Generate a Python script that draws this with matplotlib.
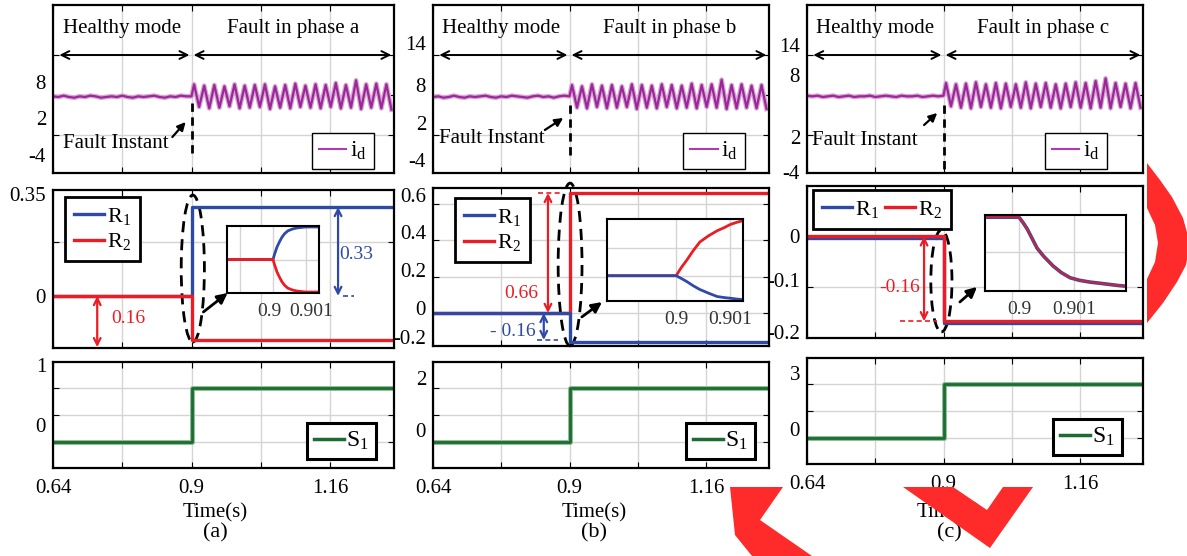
import matplotlib.pyplot as plt
from matplotlib.lines import Line2D
from matplotlib.patches import Ellipse, Polygon
from matplotlib.transforms import ScaledTranslation
import numpy as np

plt.rcParams['font.family'] = ['Liberation Serif', 'DejaVu Serif']
plt.rcParams['mathtext.fontset'] = 'stix'

W, H = 1187, 556

# ---------------- data ----------------
T_START, T_FAULT, T_END = 0.64, 0.9, 1.28
X_TICKS = [0.64, 0.77, 0.9, 1.03, 1.16]
X_LABELS = ['0.64', '', '0.9', '', '1.16']
PANELS = ['a', 'b', 'c']

# i_d, healthy part (every 10 ms)
T_HEALTHY = np.round(np.arange(0.64, 0.9001, 0.01), 2)
ID_HEALTHY_A = [7.8, 7.7, 7.9, 7.7, 7.6, 7.8, 7.7, 7.9, 7.8, 7.6, 7.7, 7.8, 7.7, 7.9,
                7.7, 7.6, 7.8, 7.7, 7.8, 7.9, 7.7, 7.6, 7.8, 7.7, 7.9, 7.8, 7.8]
ID_HEALTHY_B = [7.7, 7.8, 7.6, 7.7, 7.9, 7.7, 7.6, 7.8, 7.7, 7.8, 7.9, 7.7, 7.6, 7.8,
                7.7, 7.9, 7.8, 7.7, 7.6, 7.8, 7.9, 7.7, 7.8, 7.6, 7.8, 7.9, 7.8]
ID_HEALTHY_C = [7.9, 7.8, 7.9, 7.7, 7.8, 7.9, 7.7, 7.8, 7.9, 7.7, 7.8, 7.8, 7.9, 7.7,
                7.8, 7.9, 7.8, 7.7, 7.9, 7.8, 7.8, 7.9, 7.7, 7.8, 7.9, 7.8, 7.9]

# i_d, faulty part: successive peaks / troughs (half period 9.5 ms)
T_EXTREMA = T_FAULT + 0.00475 + 0.0095 * np.arange(40)
ID_PEAKS_A = [9.6, 9.4, 9.5, 9.3, 9.6, 9.4, 9.5, 9.6, 9.3, 9.5,
              9.7, 9.4, 9.6, 9.5, 9.8, 9.5, 10.2, 9.6, 9.7, 9.6]
ID_TROUGHS_A = [6.2, 6.0, 6.1, 6.3, 6.0, 6.1, 6.2, 5.9, 6.1, 6.0,
                6.2, 6.1, 6.0, 6.2, 6.0, 6.1, 5.9, 6.1, 6.0, 5.8]
ID_PEAKS_B = [9.5, 9.3, 9.6, 9.4, 9.5, 9.3, 9.6, 9.5, 9.4, 9.6,
              9.5, 9.4, 9.7, 9.5, 9.6, 10.3, 9.5, 9.6, 9.4, 9.5]
ID_TROUGHS_B = [6.1, 6.0, 6.2, 6.0, 6.1, 6.2, 5.9, 6.1, 6.0, 6.2,
                6.0, 6.1, 6.0, 6.2, 6.1, 5.9, 6.0, 6.1, 6.0, 5.9]
ID_PEAKS_C = [9.8, 9.6, 9.7, 9.9, 9.6, 9.8, 9.7, 9.6, 9.9, 9.7,
              9.8, 9.6, 9.7, 9.9, 9.8, 10.1, 10.5, 9.8, 9.7, 9.8]
ID_TROUGHS_C = [6.3, 6.1, 6.0, 6.2, 6.1, 6.0, 6.2, 6.1, 6.0, 6.2,
                6.1, 6.0, 6.2, 6.1, 6.0, 6.1, 6.0, 6.2, 6.0, 6.1]

# R1 / R2 levels (before, after fault)
R1_A, R2_A = [0.0, 0.33], [0.0, -0.165]
R1_B, R2_B = [0.0, -0.16], [0.0, 0.66]
R1_C, R2_C = [-0.004, -0.171], [0.0, -0.167]
# S1 levels
S1_A, S1_B, S1_C = [0, 1], [0, 2], [0, 3]

# zoomed insets (R normalised to inset height)
INS_T_A = [0.8986, 0.9, 0.90005, 0.90012, 0.9002, 0.90027, 0.90035, 0.90045,
           0.9006, 0.90073, 0.9009, 0.901, 0.9014]
INS_R1_A = [0, 0, 0.17, 0.38, 0.55, 0.68, 0.79, 0.88, 0.94, 0.97, 0.99, 1.0, 1.0]
INS_R2_A = [0, 0, -0.17, -0.38, -0.55, -0.68, -0.79, -0.88, -0.94, -0.97, -0.99, -1.0, -1.0]
INS_T_B = [0.8987, 0.9, 0.9001, 0.9002, 0.90032, 0.90044, 0.9006, 0.90076,
           0.9009, 0.901, 0.90112, 0.90124]
INS_R1_B = [0, 0, -0.05, -0.105, -0.18, -0.245, -0.31, -0.37, -0.39, -0.40, -0.415, -0.425]
INS_R2_B = [0, 0, 0.15, 0.28, 0.45, 0.60, 0.71, 0.80, 0.86, 0.91, 0.95, 0.98]
INS_T_C = [0.89938, 0.9, 0.90008, 0.90015, 0.90024, 0.90033, 0.90045, 0.90062,
           0.90077, 0.90093, 0.9011, 0.9013, 0.90153, 0.9018, 0.90195]
INS_R_C = [1.0, 1.0, 0.92, 0.84, 0.71, 0.58, 0.47, 0.34, 0.25, 0.18, 0.145, 0.12,
           0.10, 0.075, 0.065]

# y tick labels as printed (positions where the text sits)
TOP_YT_POS = [[9.95, 4.55, -1.0], [15.8, 9.5, 3.8, -1.75], [15.5, 11.0, 1.7, -3.55]]
TOP_YT_LAB = [['8', '2', '-4'], ['14', '8', '2', '-4'], ['14', '8', '2', '-4']]
MID_YT_POS = [[0.38, 0.0], [0.65, 0.445, 0.237, 0.0275, -0.132], [0.0, -0.085, -0.188]]
MID_YT_LAB = [['0.35', '0'], ['0.6', '0.4', '0.2', '0', '-0.2'], ['0', '-0.1', '-0.2']]
BOT_YT_POS = [[1.43, 0.31], [2.37, 0.44], [3.61, 0.5]]
BOT_YT_LAB = [['1', '0'], ['2', '0'], ['3', '0']]

# ---------------- style ----------------
PURPLE = '#9a2896'
BLUE = '#2f4aa6'
RED = '#ec1c24'
GREEN = '#1c6b32'
GRID = '#d4d4d4'
FS = 15

COLS_X = [(53, 394), (433, 769), (807, 1143)]
TOP_Y = [(5, 173), (5, 173), (5, 173)]
MID_Y = [(190, 348), (188, 346), (186, 338)]
BOT_Y = [(362, 468), (362, 468), (358, 464)]
TOP_LIM = (-3.7, 21.5)
MID_LIM = [(-0.193, 0.393), (-0.1815, 0.6875), (-0.2, 0.099)]
BOT_LIM = [(-0.48, 1.48), (-0.96, 2.96), (-1.44, 4.44)]
TOP_GRID = [2, 8, 14]
MID_GRID = [[0, 0.2], [0, 0.2, 0.4, 0.6], [-0.1, 0]]
BOT_GRID = [[0, 0.5, 1], [0, 1, 2], [0, 1.5, 3]]

fig = plt.figure(figsize=(W / 100, H / 100), dpi=100)


def px_axes(l, t, r, b):
    return fig.add_axes([l / W, 1 - b / H, (r - l) / W, (b - t) / H])


def style_axes(ax, ylim, grid_y, yt_pos, yt_lab, xlabels=False):
    ax.set_xlim(T_START, T_END)
    ax.set_ylim(*ylim)
    ax.set_xticks(X_TICKS)
    ax.set_xticklabels(X_LABELS if xlabels else [])
    ax.set_yticks(yt_pos)
    ax.set_yticklabels(yt_lab)
    ax.set_yticks(grid_y, minor=True)
    ax.xaxis.grid(True, color=GRID, lw=1)
    ax.yaxis.grid(True, which='minor', color=GRID, lw=1)
    ax.tick_params(axis='x', direction='in', length=4, width=0.8, top=True,
                   labelsize=FS, pad=8)
    ax.tick_params(axis='y', which='major', length=0, labelsize=FS, pad=5)
    ax.tick_params(axis='y', which='minor', direction='in', length=4, width=0.8,
                   right=True)
    for s in ax.spines.values():
        s.set_linewidth(1.6)
    ax.set_axisbelow(True)


def box_legend(ax, handles, labels, anchor, ncol=1, lw=2.0, fs=16, hl=1.3,
               tp=0.15, bp=0.35, cs=0.3):
    leg = ax.legend(handles, labels, loc='upper left', bbox_to_anchor=anchor,
                    borderaxespad=0, ncol=ncol, fancybox=False, framealpha=1,
                    edgecolor='black', fontsize=fs, handlelength=hl,
                    handletextpad=tp, borderpad=bp, labelspacing=0.2,
                    columnspacing=cs)
    leg.get_frame().set_linewidth(lw)
    return leg


ID_HEALTHY = [ID_HEALTHY_A, ID_HEALTHY_B, ID_HEALTHY_C]
ID_PEAKS = [ID_PEAKS_A, ID_PEAKS_B, ID_PEAKS_C]
ID_TROUGHS = [ID_TROUGHS_A, ID_TROUGHS_B, ID_TROUGHS_C]
R1 = [R1_A, R1_B, R1_C]
R2 = [R2_A, R2_B, R2_C]
S1 = [S1_A, S1_B, S1_C]

# positions of annotations (data coords) per column
FI_TEXT = [(0.757, 0.8), (0.752, 1.55), (0.75, 1.25)]
FI_ARROW = [((0.864, 1.7), (0.889, 3.95)), ((0.853, 2.75), (0.888, 4.55)),
            ((0.863, 3.5), (0.888, 5.3))]
FI_DASH = [(6.8, -1.3), (6.5, -1.3), (6.5, -3.55)]
ELLIPSES = [((0.41, 0.503), 0.068, 0.93), ((0.408, 0.516), 0.071, 1.03),
            ((0.40, 0.375), 0.063, 0.67)]
ZOOM_ARROWS = [((0.441, 0.228), (0.512, 0.348)), ((0.443, 0.184), (0.503, 0.278)),
               ((0.455, 0.237), (0.506, 0.336))]
INSET_PX = [(227, 226, 319, 293), (607, 219, 743, 301), (985, 215, 1126, 291)]
R_LEG_ANCHOR = [(0.035, 0.956), (0.065, 0.937), (0.018, 0.974)]
S_LEG_ANCHOR = [(0.745, 0.425), (0.753, 0.425), (0.732, 0.425)]
ID_LEG_ANCHOR = [(0.76, 0.238), (0.745, 0.238), (0.708, 0.238)]
LABEL_X = [215, 594, 949]

for i, p in enumerate(PANELS):
    l, r = COLS_X[i]

    # ---- top: i_d ----
    ax = px_axes(l, TOP_Y[i][0], r, TOP_Y[i][1])
    style_axes(ax, TOP_LIM, TOP_GRID, TOP_YT_POS[i], TOP_YT_LAB[i])
    ext = np.empty(40)
    ext[0::2] = ID_PEAKS[i]
    ext[1::2] = ID_TROUGHS[i]
    t = np.concatenate([T_HEALTHY, T_EXTREMA])
    v = np.concatenate([ID_HEALTHY[i], ext])
    ax.plot(t, v, color='#d9a6d7', lw=3.4, solid_joinstyle='round')
    ax.plot(t, v, color=PURPLE, lw=1.6)
    ax.annotate('', xy=(0.652, 14), xytext=(0.896, 14),
                arrowprops=dict(arrowstyle='<->', color='black', lw=1.4,
                                mutation_scale=14, shrinkA=0, shrinkB=0))
    ax.annotate('', xy=(0.904, 14), xytext=(1.275, 14),
                arrowprops=dict(arrowstyle='<->', color='black', lw=1.4,
                                mutation_scale=14, shrinkA=0, shrinkB=0))
    ax.text(0.77, 18.05, 'Healthy mode', fontsize=FS, ha='center', va='center')
    ax.text(1.09, 18.05, 'Fault in phase ' + p, fontsize=FS, ha='center', va='center')
    ax.plot([T_FAULT, T_FAULT], FI_DASH[i], color='black', lw=2, ls=(0, (3, 2)))
    ax.text(*FI_TEXT[i], 'Fault Instant', fontsize=FS, ha='center', va='center')
    ax.annotate('', xy=FI_ARROW[i][1], xytext=FI_ARROW[i][0],
                arrowprops=dict(arrowstyle='-|>', color='black', lw=1.6,
                                mutation_scale=12, shrinkA=0, shrinkB=0))
    box_legend(ax, [Line2D([], [], color='#b03ab0', lw=1.5)],
               [r'i$_\mathregular{d}$'], ID_LEG_ANCHOR[i], lw=1.0, fs=17, hl=1.15,
               tp=0.15, bp=0.3)

    # ---- middle: R1, R2 ----
    ax = px_axes(l, MID_Y[i][0], r, MID_Y[i][1])
    style_axes(ax, MID_LIM[i], MID_GRID[i], MID_YT_POS[i], MID_YT_LAB[i])
    tt = [T_START, T_FAULT, T_END]
    r1 = [R1[i][0], R1[i][1], R1[i][1]]
    r2 = [R2[i][0], R2[i][1], R2[i][1]]
    if p == 'b':
        ax.plot(tt, r2, color=RED, lw=2.4, drawstyle='steps-post')
        ax.plot(tt, r1, color=BLUE, lw=2.4, drawstyle='steps-post')
    else:
        ax.plot(tt, r1, color=BLUE, lw=2.4, drawstyle='steps-post')
        ax.plot(tt, r2, color=RED, lw=2.4, drawstyle='steps-post')
    (cx, cy), ew, eh = ELLIPSES[i]
    ax.add_patch(Ellipse((cx, cy), ew, eh, transform=ax.transAxes, fill=False,
                         ec='black', lw=2, ls=(0, (4, 2.5)), clip_on=False))
    ax.annotate('', xy=ZOOM_ARROWS[i][1], xytext=ZOOM_ARROWS[i][0],
                xycoords='axes fraction', textcoords='axes fraction',
                arrowprops=dict(arrowstyle='-|>', color='black', lw=2,
                                mutation_scale=15, shrinkA=0, shrinkB=0))
    dbl = dict(arrowstyle='<->', lw=1.6, mutation_scale=12, shrinkA=0, shrinkB=0)
    if p == 'a':
        ax.annotate('', xy=(0.723, R2_A[0]), xytext=(0.723, -0.19),
                    arrowprops=dict(dbl, color=RED))
        ax.text(0.781, -0.082, '0.16', color=RED, fontsize=14, ha='center', va='center')
        ax.annotate('', xy=(1.175, R1_A[1]), xytext=(1.175, R1_A[0]),
                    arrowprops=dict(dbl, color=BLUE))
        ax.text(1.209, 0.152, '0.33', color=BLUE, fontsize=14, ha='center', va='center')
        ax.plot([1.184, 1.205], [0, 0], color=BLUE, lw=1.2, ls=(0, (3, 2)))
    elif p == 'b':
        ax.annotate('', xy=(0.859, R2_B[1]), xytext=(0.859, R2_B[0]),
                    arrowprops=dict(dbl, color=RED))
        ax.plot([0.84, 0.888], [R2_B[1], R2_B[1]], color=RED, lw=1.2, ls=(0, (3, 2)))
        ax.text(0.808, 0.11, '0.66', color=RED, fontsize=14, ha='center', va='center')
        ax.annotate('', xy=(0.851, -0.1485), xytext=(0.851, 0),
                    arrowprops=dict(dbl, color=BLUE))
        ax.plot([0.838, 0.878], [-0.1485, -0.1485], color=BLUE, lw=1.2, ls=(0, (3, 2)))
        ax.text(0.792, -0.1045, '- 0.16', color=BLUE, fontsize=14, ha='center',
                va='center')
    else:
        ax.annotate('', xy=(0.863, R2_C[1]), xytext=(0.863, R2_C[0]),
                    arrowprops=dict(dbl, color=RED))
        ax.plot([0.817, 0.888], [R2_C[1], R2_C[1]], color=RED, lw=1.2, ls=(0, (3, 2)))
        ax.text(0.817, -0.101, '-0.16', color=RED, fontsize=14, ha='center', va='center')
    r_handles = [Line2D([], [], color=BLUE, lw=2.4), Line2D([], [], color=RED, lw=2.4)]
    r_labels = [r'R$_\mathregular{1}$', r'R$_\mathregular{2}$']
    box_legend(ax, r_handles, r_labels, R_LEG_ANCHOR[i], ncol=2 if p == 'c' else 1,
               hl=1.35, tp=0.15, bp=0.4, cs=0.25)

    # ---- inset ----
    il, it, ir, ib = INSET_PX[i]
    iax = px_axes(il, it, ir, ib)
    if p == 'a':
        iax.plot(INS_T_A, INS_R1_A, color=BLUE, lw=2)
        iax.plot(INS_T_A, INS_R2_A, color=RED, lw=2)
        iax.set_xlim(0.8986, 0.9014)
        iax.set_ylim(-1.03, 1.03)
        iax.set_xticks([0.899, 0.9, 0.901])
        iax.set_xticklabels(['', '0.9', '0.901'])
        iax.set_yticks([0])
    elif p == 'b':
        iax.plot(INS_T_B, INS_R2_B, color=RED, lw=2)
        iax.plot(INS_T_B, INS_R1_B, color=BLUE, lw=2)
        iax.set_xlim(0.89872, 0.90124)
        iax.set_ylim(-0.45, 1.01)
        iax.set_xticks([0.9, 0.901])
        iax.set_xticklabels(['0.9', '0.901'])
        iax.set_yticks([0, 0.5])
    else:
        iax.plot(INS_T_C, INS_R_C, color=BLUE, lw=2.6)
        iax.plot(INS_T_C, INS_R_C, color=RED, lw=1.4, alpha=0.85)
        iax.set_xlim(0.89938, 0.90195)
        iax.set_ylim(0.0, 1.03)
        iax.set_xticks([0.9, 0.901])
        iax.set_xticklabels(['0.9', '0.901'])
        iax.set_yticks([0.53])
    iax.set_yticklabels([])
    iax.grid(True, color=GRID, lw=1)
    iax.tick_params(length=0, labelsize=14, labelcolor='#333333', pad=7)
    if p == 'a':
        # labels sit a little apart in the original
        lbls = iax.get_xticklabels()
        for lbl, dx in zip(lbls[1:], (-4, 5)):
            lbl.set_transform(lbl.get_transform()
                              + ScaledTranslation(dx / 100, 0, fig.dpi_scale_trans))
    for s in iax.spines.values():
        s.set_linewidth(1.5)

    # ---- bottom: S1 ----
    ax = px_axes(l, BOT_Y[i][0], r, BOT_Y[i][1])
    style_axes(ax, BOT_LIM[i], BOT_GRID[i], BOT_YT_POS[i], BOT_YT_LAB[i], xlabels=True)
    ax.plot(tt, [S1[i][0], S1[i][1], S1[i][1]], color='#8fbf96', lw=3.6,
            drawstyle='steps-post')
    ax.plot(tt, [S1[i][0], S1[i][1], S1[i][1]], color=GREEN, lw=2,
            drawstyle='steps-post')
    box_legend(ax, [Line2D([], [], color=GREEN, lw=2.5)], [r'S$_\mathregular{1}$'],
               S_LEG_ANCHOR[i], lw=2.2, fs=17, hl=1.25, tp=0.1, bp=0.3)

    fig.text(LABEL_X[i] / W, 1 - 513 / H, 'Time(s)', fontsize=FS, ha='center',
             va='center')
    fig.text(LABEL_X[i] / W, 1 - 533 / H, '(' + p + ')', fontsize=16, ha='center',
             va='center')

# red marks drawn over the figure
def px_poly(pts):
    return Polygon([(x / W, 1 - y / H) for x, y in pts], closed=True,
                   transform=fig.transFigure, fc='#ff2a2a', ec='none', zorder=10)


fig.patches.append(px_poly([(1147, 163), (1160, 180), (1172, 197), (1183, 218),
                            (1190, 243), (1186, 265), (1177, 282), (1163, 303),
                            (1147, 323), (1147, 279), (1155, 262), (1158, 243),
                            (1155, 225), (1147, 208)]))
fig.patches.append(px_poly([(903, 487), (953, 487), (987, 510), (1003, 487),
                            (1033, 487), (990, 548)]))
fig.patches.append(px_poly([(730, 487), (783, 487), (760, 520), (812, 556),
                            (752, 556), (735, 535)]))

fig.savefig('out.png', dpi=100)
